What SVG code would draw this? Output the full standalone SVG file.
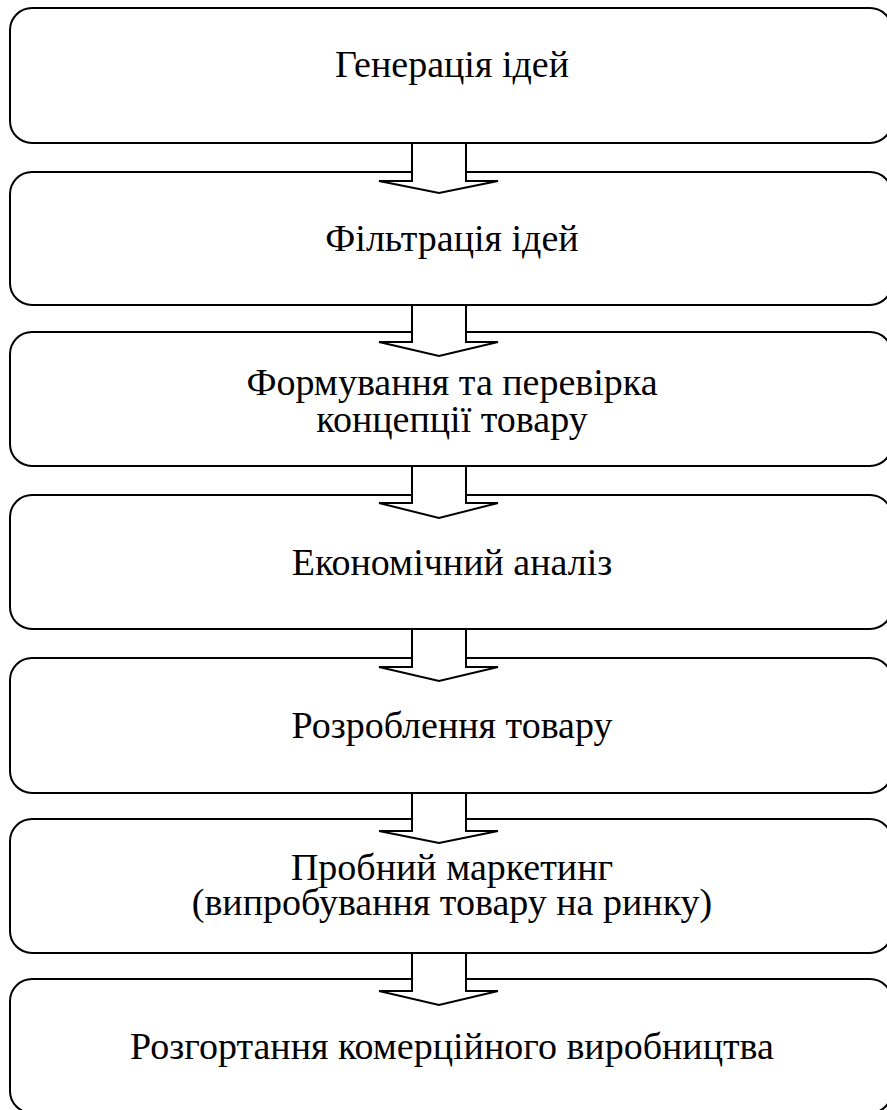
<svg xmlns="http://www.w3.org/2000/svg" width="887" height="1110" viewBox="0 0 887 1110">
  <style>
    .box { fill: #ffffff; stroke: #000000; stroke-width: 2; }
    .arrow { fill: #ffffff; stroke: #000000; stroke-width: 2; stroke-linejoin: miter; }
    .label { font-family: "Liberation Serif", "Times New Roman", serif; font-size: 38px; fill: #000000; text-anchor: middle; }
  </style>
  <rect width="887" height="1110" fill="#ffffff"/>

  <!-- Stage boxes -->
  <g id="node-1">
    <rect class="box" x="10" y="8" width="882" height="135" rx="22" ry="22"/>
    <text class="label" x="452" y="77">Генерація ідей</text>
  </g>
  <g id="node-2">
    <rect class="box" x="10" y="172" width="882" height="133" rx="22" ry="22"/>
    <text class="label" x="452" y="251">Фільтрація ідей</text>
  </g>
  <g id="node-3">
    <rect class="box" x="10" y="332" width="882" height="134" rx="22" ry="22"/>
    <text class="label" x="452" y="395">Формування та перевірка</text>
    <text class="label" x="452" y="432">концепції товару</text>
  </g>
  <g id="node-4">
    <rect class="box" x="10" y="495" width="882" height="134" rx="22" ry="22"/>
    <text class="label" x="452" y="575">Економічний аналіз</text>
  </g>
  <g id="node-5">
    <rect class="box" x="10" y="658" width="882" height="135" rx="22" ry="22"/>
    <text class="label" x="452" y="738">Розроблення товару</text>
  </g>
  <g id="node-6">
    <rect class="box" x="10" y="819" width="882" height="134" rx="22" ry="22"/>
    <text class="label" x="452" y="880">Пробний маркетинг</text>
    <text class="label" x="452" y="915">(випробування товару на ринку)</text>
  </g>
  <g id="node-7">
    <rect class="box" x="10" y="979" width="882" height="134" rx="22" ry="22"/>
    <text class="label" x="452" y="1059">Розгортання комерційного виробництва</text>
  </g>

  <!-- Block arrows between stages -->
  <g id="connectors">
    <polygon class="arrow" points="412,143 466,143 466,181 498,181 439,193 379,181 412,181"/>
    <polygon class="arrow" points="412,305 466,305 466,342 498,342 439,356 379,342 412,342"/>
    <polygon class="arrow" points="412,466 466,466 466,503 498,503 439,518 379,503 412,503"/>
    <polygon class="arrow" points="412,629 466,629 466,667 498,667 439,681 379,667 412,667"/>
    <polygon class="arrow" points="412,793 466,793 466,831 498,831 439,843 379,831 412,831"/>
    <polygon class="arrow" points="412,953 466,953 466,991 498,991 439,1005 379,991 412,991"/>
  </g>
</svg>
